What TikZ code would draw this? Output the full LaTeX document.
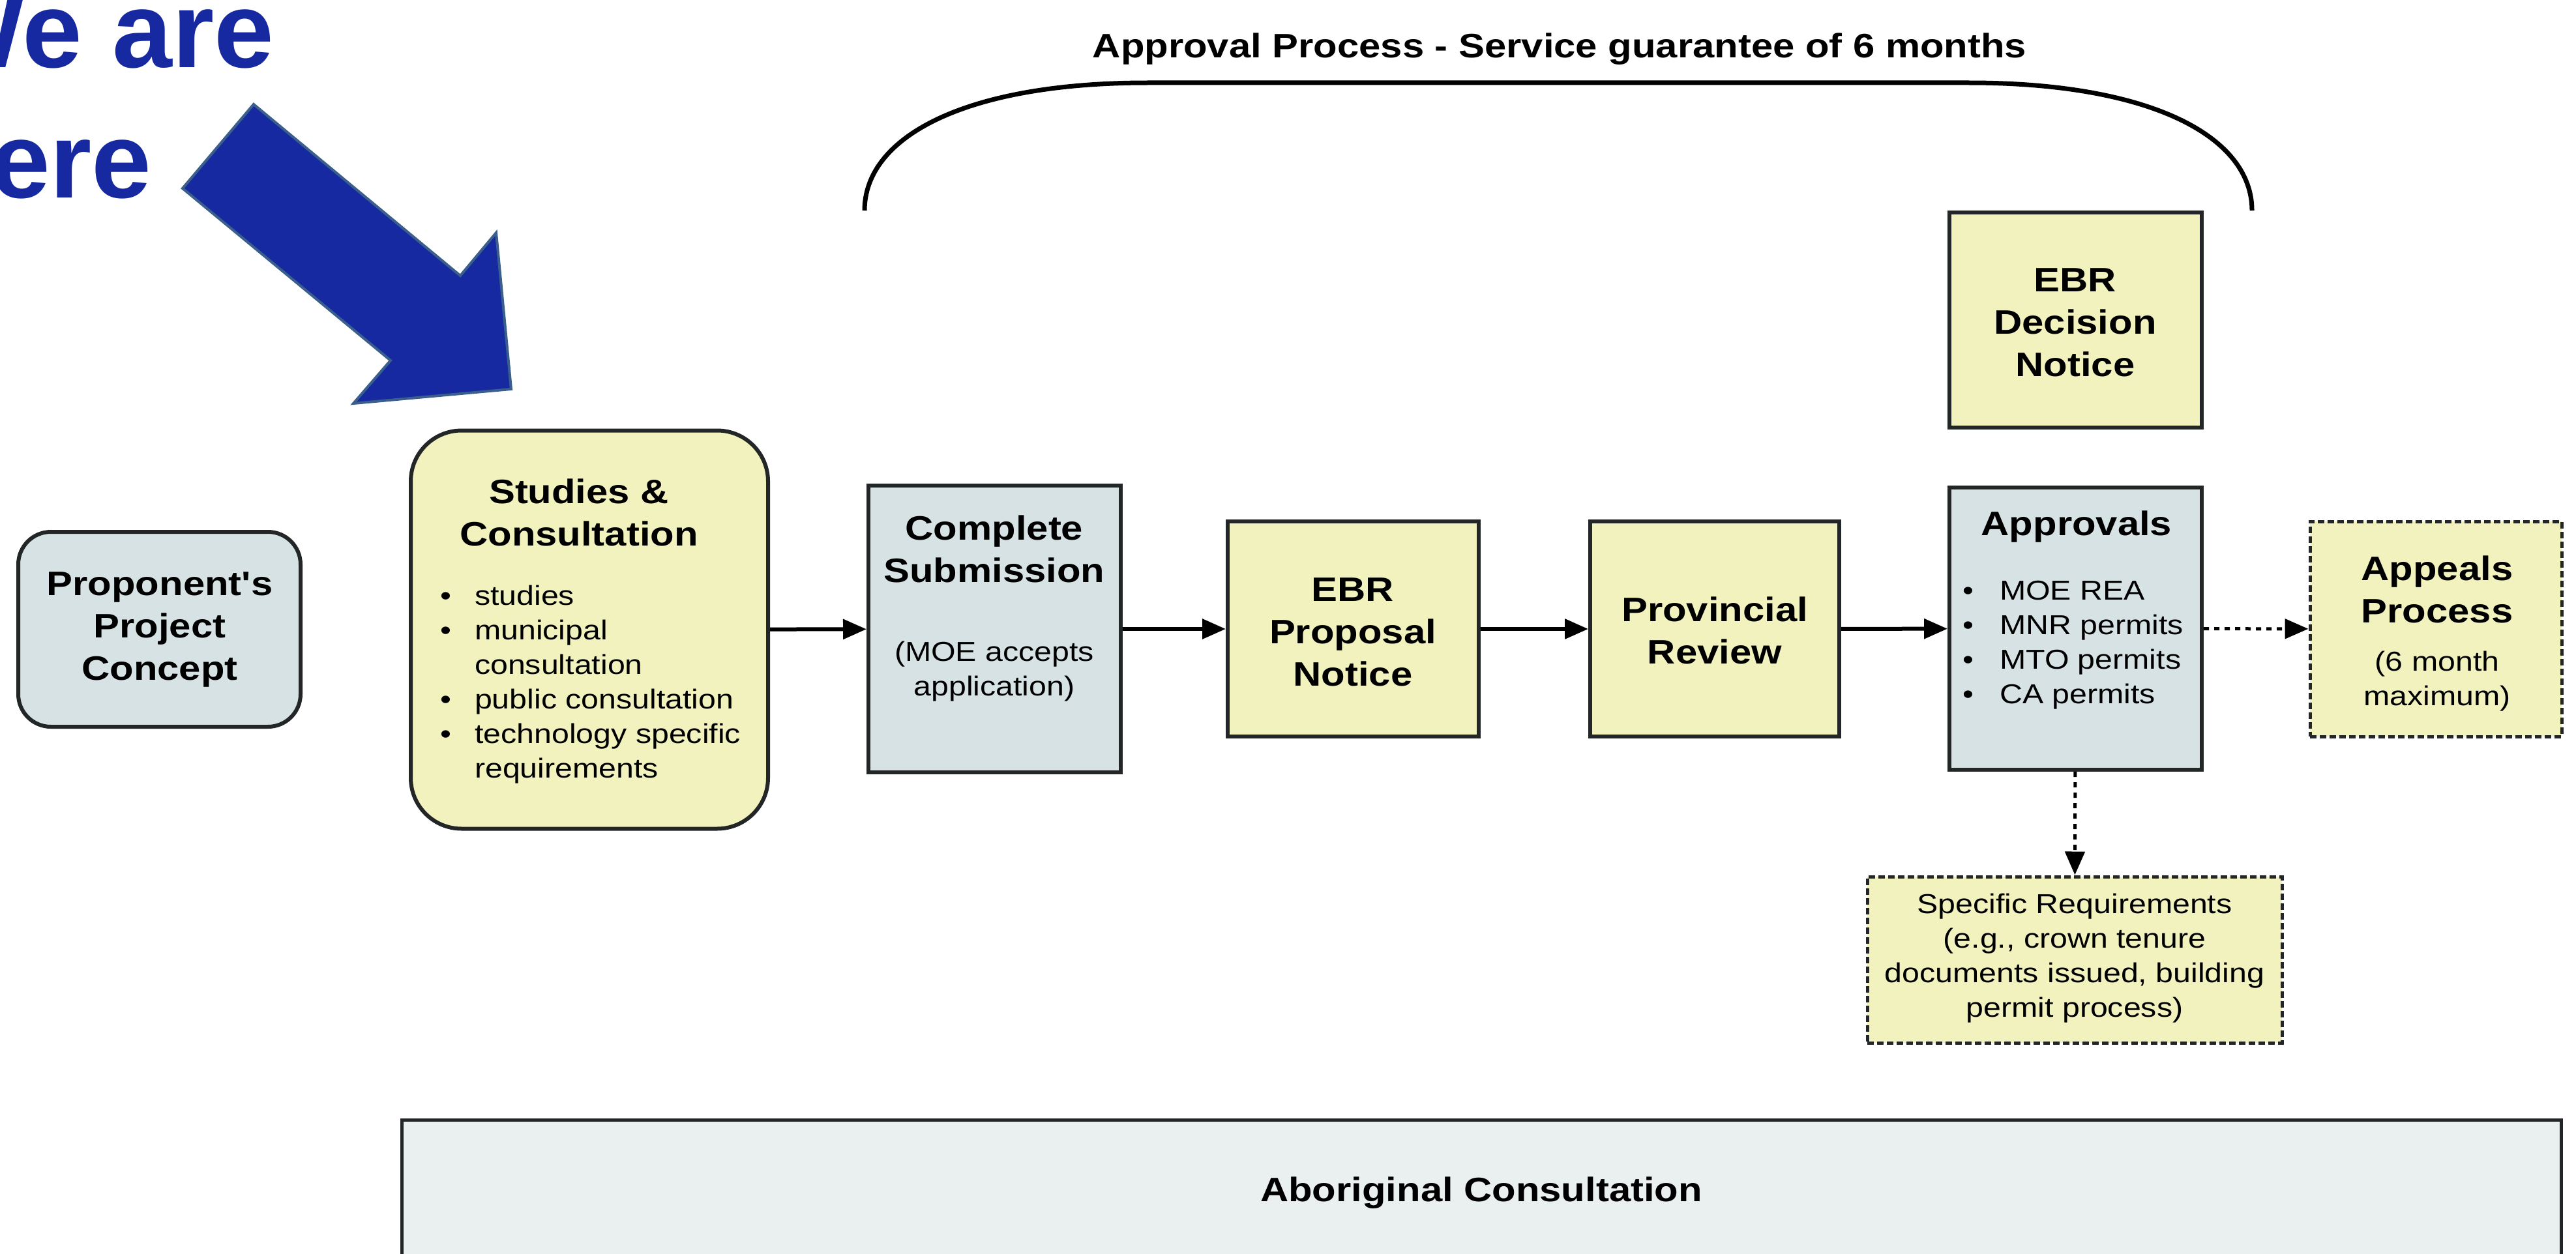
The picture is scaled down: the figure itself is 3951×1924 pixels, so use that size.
\documentclass[tikz,border=0pt]{standalone}
\usepackage{fontspec}
\setmainfont{Liberation Sans}
\newfontfamily\dfont[FakeStretch=1.15]{Liberation Sans}
\usetikzlibrary{arrows.meta}
\definecolor{boxblue}{RGB}{214,226,228}
\definecolor{boxyel}{RGB}{241,242,190}
\definecolor{aborfill}{RGB}{234,239,240}
\definecolor{edgecol}{RGB}{35,38,38}
\definecolor{bigblue}{RGB}{22,41,160}
\definecolor{bigedge}{RGB}{58,95,140}
\newcommand\bfnt{\dfont\bfseries\fontsize{52}{65}\selectfont}
\newcommand\rfnt{\dfont\fontsize{42}{53}\selectfont}
\newcommand\hugefnt{\bfseries\fontsize{165}{198}\selectfont}
\newcommand\bul{\textbullet}
\tikzset{
  box/.style={draw=edgecol, line width=6pt, inner sep=0pt},
  bluebox/.style={box, fill=boxblue},
  yelbox/.style={box, fill=boxyel},
  dashbox/.style={draw=edgecol, line width=5pt, dash pattern=on 10pt off 5pt, fill=boxyel, inner sep=0pt},
  title/.style={font=\bfnt, align=center, inner sep=0pt},
  sub/.style={font=\rfnt, align=center, inner sep=0pt},
  blist/.style={font=\rfnt, inner sep=0pt, anchor=west},
  flow/.style={line width=6pt, -{Triangle[length=36pt,width=30pt]}},
  dflow/.style={line width=5pt, -{Triangle[length=36pt,width=30pt]}, dash pattern=on 8pt off 8pt},
  bigtext/.style={font=\hugefnt, text=bigblue, inner sep=0pt, anchor=base west}
}
\begin{document}
\begin{tikzpicture}[x=1pt,y=-1pt]
\useasboundingbox (0,0) rectangle (3951,1924);
\clip (0,0) rectangle (3951,1924);

% "We are here" arrow
\node[bigtext] (we) at (-118,104) {We are};
\node[bigtext] (here) at (-116,303) {here};
\draw[fill=bigblue, draw=bigedge, line width=4pt, line join=miter]
  (389,160) -- (706,423) -- (761,357) -- (784,597) -- (542,619) -- (599,553) -- (280,289) -- cycle;

% brace over approval process
\node[title] (aptitle) at (2392,75) {Approval Process - Service guarantee of 6 months};
\coordinate (arcL) at (1326,323);
\coordinate (arcR) at (3454,323);
\draw[line width=7pt] (arcL) .. controls (1326,210) and (1480,127) .. (1760,127) -- (3020,127) .. controls (3300,127) and (3454,210) .. (arcR);

% boxes
\node[bluebox, rounded corners=50pt, minimum width=433pt, minimum height=299pt] (prop) at (244.5,965.5) {};
\node[title] (propt) at (245,966) {Proponent's\\Project\\Concept};

\node[yelbox, rounded corners=78pt, minimum width=548pt, minimum height=611pt] (studies) at (904,966) {};
\node[title] (studiest) at (888,786) {Studies \&\\Consultation};
\node[blist] (studiesl) at (675,1050) {\begin{tabular}{@{}l@{\hspace{36pt}}l@{}}
\bul & studies\\
\bul & municipal\\
 & consultation\\
\bul & public consultation\\
\bul & technology specific\\
 & requirements
\end{tabular}};

\node[bluebox, minimum width=387pt, minimum height=440pt] (cs) at (1525.5,965) {};
\node[title] (cst) at (1525,842) {Complete\\Submission};
\node[sub] (css) at (1525,1030) {(MOE accepts\\application)};

\node[yelbox, minimum width=385pt, minimum height=330pt] (ebrp) at (2075.5,965) {};
\node[title] (ebrpt) at (2075,970) {EBR\\Proposal\\Notice};

\node[yelbox, minimum width=382pt, minimum height=330pt] (prov) at (2630,965) {};
\node[title] (provt) at (2630,967) {Provincial\\Review};

\node[yelbox, minimum width=387pt, minimum height=330pt] (ebrd) at (3183.5,491) {};
\node[title] (ebrdt) at (3183,495) {EBR\\Decision\\Notice};

\node[bluebox, minimum width=387pt, minimum height=433pt] (appr) at (3183.5,964.5) {};
\node[title] (apprt) at (3185,808) {Approvals};
\node[blist] (apprl) at (3010,989) {\begin{tabular}{@{}l@{\hspace{40pt}}l@{}}
\bul & MOE REA\\
\bul & MNR permits\\
\bul & MTO permits\\
\bul & CA permits
\end{tabular}};

\node[dashbox, minimum width=386pt, minimum height=330pt] (appeals) at (3736,965) {};
\node[title] (appealst) at (3738,904) {Appeals\\Process};
\node[sub] (appealss) at (3738,1045) {(6 month\\maximum)};

\node[dashbox, minimum width=636pt, minimum height=255pt] (spec) at (3182,1472.5) {};
\node[sub] (spect) at (3182,1470) {Specific Requirements\\(e.g., crown tenure\\documents issued, building\\permit process)};

\node[draw=edgecol, line width=5pt, fill=aborfill, inner sep=0pt, minimum width=3312pt, minimum height=320pt, anchor=north west] (abor) at (614,1716) {};
\node[title] (abort) at (2272,1830) {Aboriginal Consultation};

% connectors
\draw[flow] (studies) -- (cs);
\draw[flow] (cs) -- (ebrp);
\draw[flow] (ebrp) -- (prov);
\draw[flow] (prov) -- (appr);
\draw[dflow] (appr) -- (appeals);
\draw[dflow] (appr) -- (spec);
\end{tikzpicture}
\end{document}
